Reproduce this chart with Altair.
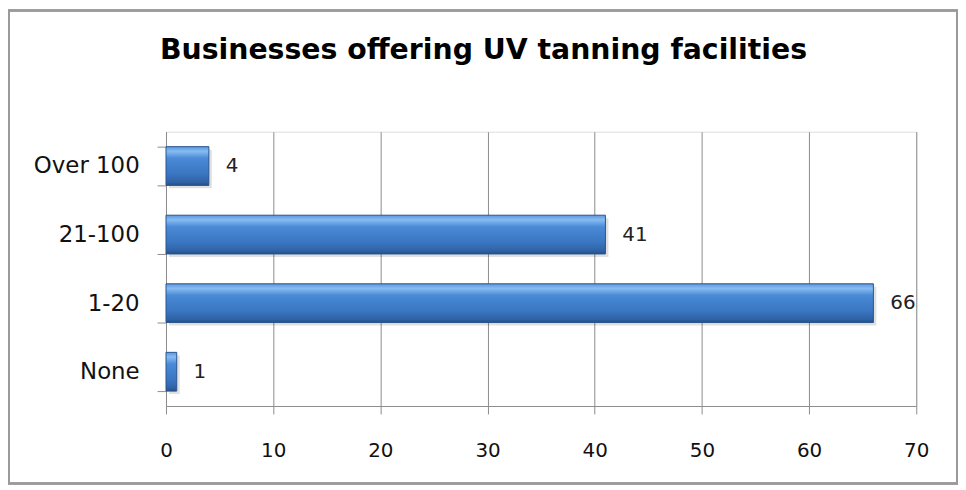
import altair as alt
import pandas as pd

categories = ["Over 100", "21-100", "1-20", "None"]
values = [4, 41, 66, 1]
x_ticks = [0, 10, 20, 30, 40, 50, 60, 70]
title_text = "Businesses offering UV tanning facilities"

df = pd.DataFrame({"cat": categories, "val": values})

W, H = 755, 276

x_enc = alt.X("val:Q", scale=alt.Scale(domain=[0, 70], nice=False),
              axis=alt.Axis(values=x_ticks, title=None, grid=True, gridColor="#8c8c8c",
                            gridOpacity=1, domainColor="#8c8c8c", tickColor="#8c8c8c",
                            tickSize=8, labelFont="DejaVu Sans", labelFontSize=20,
                            labelColor="#111", labelPadding=27, labelFlush=False))
y_enc = alt.Y("cat:N", sort=categories,
              scale=alt.Scale(paddingInner=0.435, paddingOuter=0.2175),
              axis=alt.Axis(title=None, tickBand="extent", domainColor="#8c8c8c",
                            tickColor="#8c8c8c", tickSize=9, labelFont="DejaVu Sans",
                            labelFontSize=23, labelColor="#111", labelPadding=18))

grad = alt.Gradient(gradient="linear", x1=0, x2=0, y1=0, y2=1,
                    stops=[alt.GradientStop(offset=0, color="#5d97dc"),
                           alt.GradientStop(offset=0.12, color="#86bcf2"),
                           alt.GradientStop(offset=0.3, color="#4a8ad6"),
                           alt.GradientStop(offset=0.7, color="#3a76c2"),
                           alt.GradientStop(offset=0.92, color="#2f62a4"),
                           alt.GradientStop(offset=1, color="#234e86")])

shadow = alt.Chart(df).mark_bar(color="#000", opacity=0.12, xOffset=3, yOffset=3).encode(
    x=x_enc, y=y_enc)
bars = alt.Chart(df).mark_bar(color=grad, stroke="#2a5590", strokeWidth=1).encode(
    x=x_enc, y=y_enc)
labels = alt.Chart(df).mark_text(align="left", baseline="middle", dx=17,
                                 font="DejaVu Sans", fontSize=20, color="#222").encode(
    x=x_enc, y=y_enc, text="val:Q")

frame = alt.Chart(df).mark_rect(fill=None, stroke="#9a9a9a", strokeWidth=2).encode(
    x=alt.value(-158), x2=alt.value(796), y=alt.value(-122), y2=alt.value(354))

chart = alt.layer(frame, shadow, bars, labels).properties(
    width=W, height=H,
    title=alt.Title(title_text, font="DejaVu Sans", fontSize=28.5, fontWeight="bold",
                    color="#000", anchor="middle", dx=-58, offset=0, dy=55),
    autosize=alt.AutoSizeParams(type="none"),
    padding={"left": 159, "top": 123, "right": 42, "bottom": 81},
).configure_view(stroke=None).configure(background="white")

chart.save("out.html", embed_options={"renderer": "svg", "actions": False})
